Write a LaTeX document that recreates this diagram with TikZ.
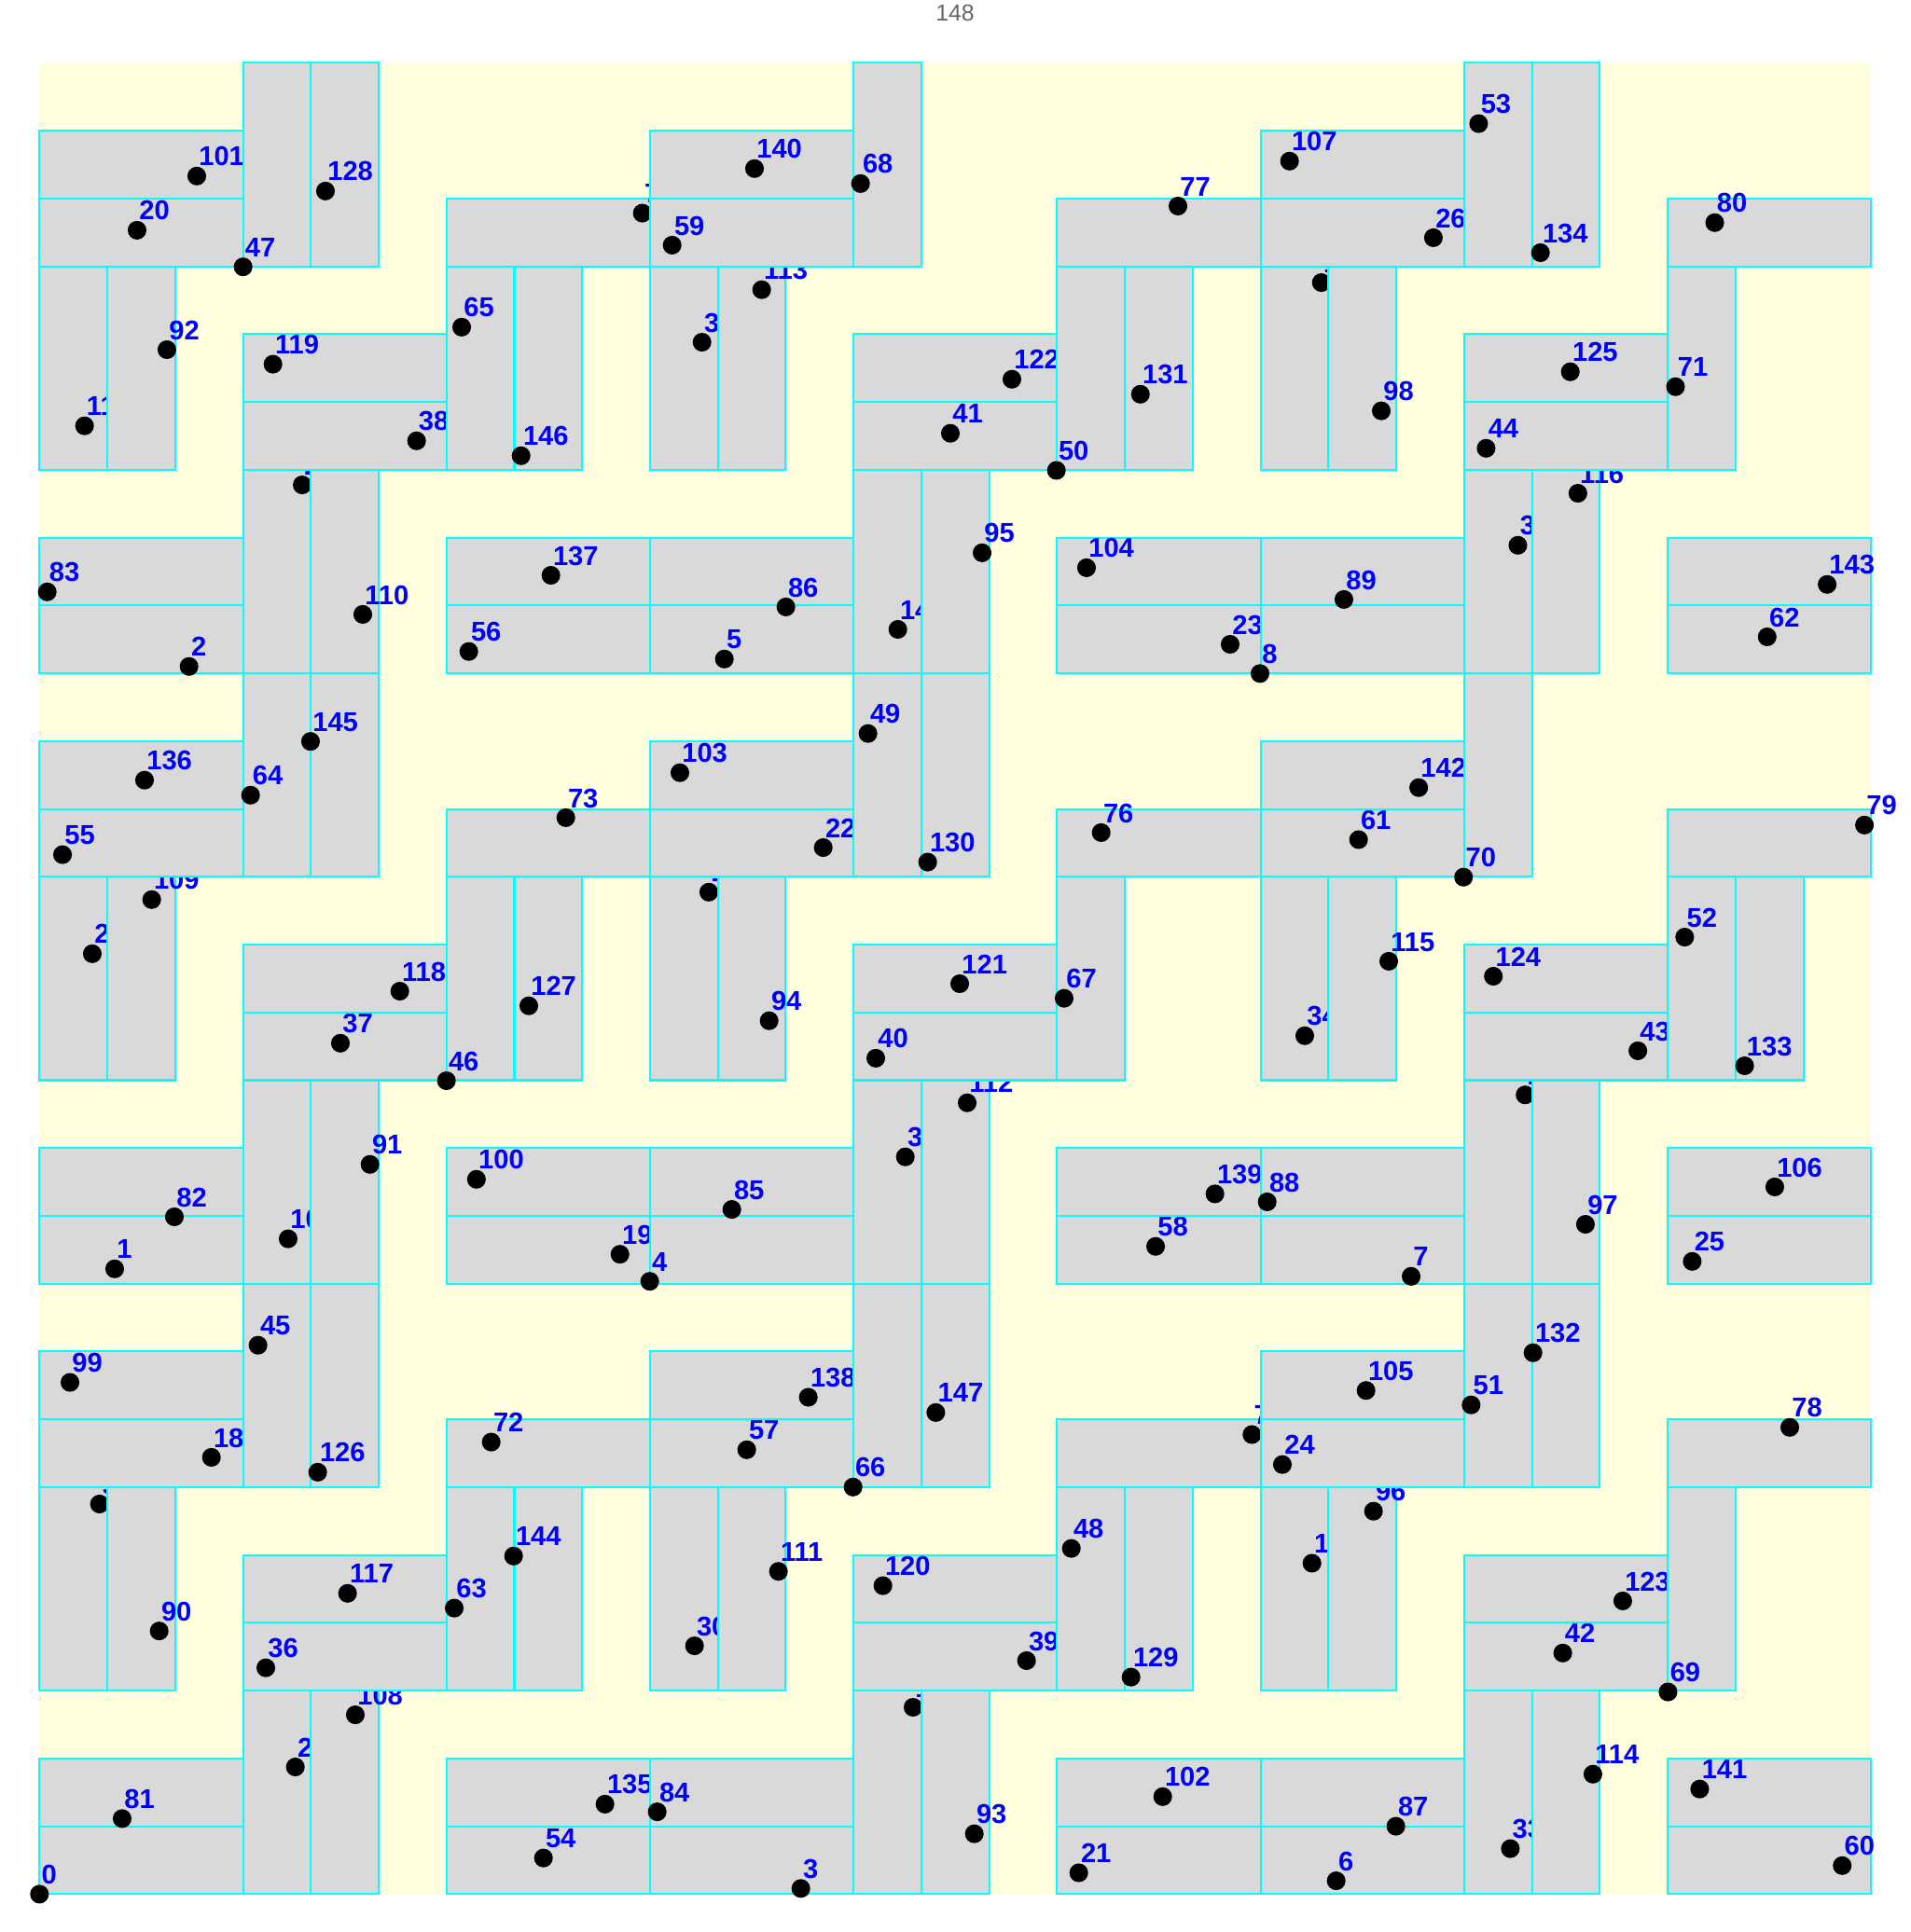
\documentclass[tikz,border=0pt]{standalone}
\usepackage{fontspec}
\newfontfamily\labfont{Liberation Sans}
\definecolor{bgyellow}{RGB}{255,255,221}
\definecolor{tilegray}{RGB}{217,217,217}
\definecolor{tileedge}{RGB}{0,255,255}
\definecolor{labblue}{RGB}{0,0,255}
\definecolor{titlegray}{RGB}{102,102,102}
\tikzset{
  tilebox/.style={fill=tilegray, draw=tileedge, line width=0.8pt},
  ptdot/.style={fill=black},
  lab/.style={anchor=base west, inner sep=0pt, text=labblue, font=\labfont\bfseries\fontsize{11.4}{12}\selectfont},
  titlelab/.style={anchor=base, inner sep=0pt, text=titlegray, font=\labfont\fontsize{9.7}{11}\selectfont}
}
% horizontal 3x1 tile at (u,v) (v measured downward), point (pu,pv), label
\newcommand{\hrt}[5]{%
  \draw[tilebox] (#1,#2) rectangle ++(3,1);
  \fill[ptdot] (#3,#4) circle[radius=0.138];
  \node[lab] (p#5) at (#3+0.025,#4-0.15) {#5};}
% vertical 1x3 tile
\newcommand{\vrt}[5]{%
  \draw[tilebox] (#1,#2) rectangle ++(1,3);
  \fill[ptdot] (#3,#4) circle[radius=0.138];
  \node[lab] (p#5) at (#3+0.025,#4-0.15) {#5};}
\begin{document}
\begin{tikzpicture}
\useasboundingbox (-0.5815,-0.558) rectangle (27.5735,27.9266);
\node[titlelab] (title) at (13.496,27.62) {148};
\fill[bgyellow] (0,0) rectangle (27,27);
\begin{scope}[shift={(0cm,27cm)}, x={(1cm,0cm)}, y={(0cm,-1cm)}]
% row tops 26
\hrt{0}{26}{0}{27}{0}
\hrt{6}{26}{7.429}{26.467}{54}
\hrt{9}{26}{11.223}{26.916}{3}
\hrt{15}{26}{15.320}{26.685}{21}
\hrt{18}{26}{19.114}{26.803}{6}
\hrt{24}{26}{26.573}{26.579}{60}
% 25
\hrt{0}{25}{1.219}{25.886}{81}
\hrt{6}{25}{8.336}{25.673}{135}
\hrt{9}{25}{9.106}{25.786}{84}
\hrt{15}{25}{16.557}{25.562}{102}
\hrt{18}{25}{19.994}{25.999}{87}
\hrt{24}{25}{24.472}{25.450}{141}
% 24
\vrt{3}{24}{3.772}{25.125}{27}
\vrt{4}{24}{4.656}{24.356}{108}
\vrt{12}{24}{12.877}{24.245}{12}
\vrt{13}{24}{13.780}{26.110}{93}
\vrt{21}{24}{21.681}{26.329}{33}
\vrt{22}{24}{22.898}{25.231}{114}
% 23
\hrt{3}{23}{3.337}{23.663}{36}
\hrt{12}{23}{14.550}{23.557}{39}
\hrt{21}{23}{22.454}{23.445}{42}
% 22
\hrt{3}{22}{4.542}{22.565}{117}
\hrt{12}{22}{12.433}{22.452}{120}
\hrt{21}{22}{23.338}{22.677}{123}
% 21
\vrt{0}{21}{0.885}{21.248}{9}
\vrt{1}{21}{1.765}{23.120}{90}
\vrt{6}{21}{6.114}{22.783}{63}
\vrt{7}{21}{6.989}{22.015}{144}
\vrt{9}{21}{9.656}{23.339}{30}
\vrt{10}{21}{10.893}{22.241}{111}
\vrt{15}{21}{15.210}{21.903}{48}
\vrt{16}{21}{16.090}{23.800}{129}
\vrt{18}{21}{18.757}{22.121}{15}
\vrt{19}{21}{19.664}{21.354}{96}
\vrt{24}{21}{24.005}{24.019}{69}
% 20
\hrt{0}{20}{2.535}{20.560}{18}
\hrt{6}{20}{6.659}{20.335}{72}
\hrt{9}{20}{10.426}{20.448}{57}
\hrt{15}{20}{17.872}{20.224}{75}
\hrt{18}{20}{18.321}{20.666}{24}
\hrt{24}{20}{25.800}{20.118}{78}
% 19
\hrt{0}{19}{0.450}{19.455}{99}
\hrt{9}{19}{11.333}{19.674}{138}
\hrt{18}{19}{19.554}{19.574}{105}
% 18
\vrt{3}{18}{3.222}{18.907}{45}
\vrt{4}{18}{4.102}{20.779}{126}
\vrt{12}{18}{11.993}{20.998}{66}
\vrt{13}{18}{13.212}{19.899}{147}
\vrt{21}{18}{21.103}{19.787}{51}
\vrt{22}{18}{22.015}{19.018}{132}
% 17
\hrt{0}{17}{1.109}{17.781}{1}
\hrt{6}{17}{8.557}{17.566}{19}
\hrt{9}{17}{8.996}{17.965}{4}
\hrt{15}{17}{16.452}{17.450}{58}
\hrt{18}{17}{20.219}{17.891}{7}
\hrt{24}{17}{24.362}{17.671}{25}
% 16
\hrt{0}{16}{1.989}{17.014}{82}
\hrt{6}{16}{6.441}{16.461}{100}
\hrt{9}{16}{10.206}{16.905}{85}
\hrt{15}{16}{17.327}{16.676}{139}
\hrt{18}{16}{18.097}{16.793}{88}
\hrt{24}{16}{25.579}{16.573}{106}
% 15
\vrt{3}{15}{3.666}{17.338}{10}
\vrt{4}{15}{4.872}{16.241}{91}
\vrt{12}{15}{12.763}{16.130}{31}
\vrt{13}{15}{13.675}{15.333}{112}
\vrt{21}{15}{21.899}{15.216}{16}
\vrt{22}{15}{22.788}{17.124}{97}
% 14
\hrt{3}{14}{4.436}{14.454}{37}
\hrt{12}{14}{12.328}{14.675}{40}
\hrt{21}{14}{23.561}{14.566}{43}
% 13
\hrt{3}{13}{5.312}{13.687}{118}
\hrt{12}{13}{13.565}{13.577}{121}
\hrt{21}{13}{21.431}{13.467}{124}
% 12
\vrt{0}{12}{0.779}{13.135}{28}
\vrt{1}{12}{1.655}{12.337}{109}
\vrt{6}{12}{5.999}{15.007}{46}
\vrt{7}{12}{7.213}{13.903}{127}
\vrt{9}{12}{9.866}{12.227}{13}
\vrt{10}{12}{10.756}{14.123}{94}
\vrt{15}{12}{15.104}{13.792}{67}
\vrt{18}{12}{18.651}{14.344}{34}
\vrt{19}{12}{19.889}{13.246}{115}
\vrt{24}{12}{24.251}{12.890}{52}
\vrt{25}{12}{25.135}{14.787}{133}
% 11
\hrt{0}{11}{0.340}{11.674}{55}
\hrt{6}{11}{7.759}{11.129}{73}
\hrt{9}{11}{11.553}{11.570}{22}
\hrt{15}{11}{15.650}{11.349}{76}
\hrt{18}{11}{19.444}{11.453}{61}
\hrt{24}{11}{26.901}{11.238}{79}
% 10
\hrt{0}{10}{1.549}{10.576}{136}
\hrt{9}{10}{9.440}{10.466}{103}
\hrt{18}{10}{20.330}{10.686}{142}
% 9
\vrt{3}{9}{3.112}{10.797}{64}
\vrt{4}{9}{3.996}{10.005}{145}
\vrt{12}{9}{12.213}{9.888}{49}
\vrt{13}{9}{13.093}{11.784}{130}
\vrt{21}{9}{20.991}{12.006}{70}
% 8
\hrt{0}{8}{2.205}{8.900}{2}
\hrt{6}{8}{6.329}{8.679}{56}
\hrt{9}{8}{10.096}{8.790}{5}
\hrt{15}{8}{17.551}{8.573}{23}
\hrt{18}{8}{17.991}{9.004}{8}
\hrt{24}{8}{25.467}{8.463}{62}
% 7
\hrt{0}{7}{0.115}{7.800}{83}
\hrt{6}{7}{7.539}{7.556}{137}
\hrt{9}{7}{11.003}{8.022}{86}
\hrt{15}{7}{15.434}{7.444}{104}
\hrt{18}{7}{19.228}{7.912}{89}
\hrt{24}{7}{26.351}{7.690}{143}
% 6
\vrt{3}{6}{3.873}{6.223}{29}
\vrt{4}{6}{4.766}{8.132}{110}
\vrt{12}{6}{12.653}{8.353}{14}
\vrt{13}{6}{13.895}{7.224}{95}
\vrt{21}{6}{21.792}{7.113}{35}
\vrt{22}{6}{22.677}{6.346}{116}
% 5
\hrt{3}{5}{5.559}{5.573}{38}
\hrt{12}{5}{13.427}{5.462}{41}
\hrt{21}{5}{21.324}{5.683}{44}
% 4
\hrt{3}{4}{3.442}{4.443}{119}
\hrt{12}{4}{14.334}{4.665}{122}
\hrt{21}{4}{22.565}{4.555}{125}
% 3
\vrt{0}{3}{0.665}{5.352}{11}
\vrt{1}{3}{1.879}{4.229}{92}
\vrt{6}{3}{6.224}{3.897}{65}
\vrt{7}{3}{7.099}{5.793}{146}
\vrt{9}{3}{9.766}{4.119}{32}
\vrt{10}{3}{10.646}{3.345}{113}
\vrt{15}{3}{14.990}{6.009}{50}
\vrt{16}{3}{16.228}{4.886}{131}
\vrt{18}{3}{18.895}{3.240}{17}
\vrt{19}{3}{19.779}{5.131}{98}
\vrt{24}{3}{24.116}{4.775}{71}
% 2
\hrt{0}{2}{1.439}{2.468}{20}
\hrt{6}{2}{8.886}{2.216}{74}
\hrt{9}{2}{9.326}{2.688}{59}
\hrt{15}{2}{16.782}{2.112}{77}
\hrt{18}{2}{20.547}{2.578}{26}
\hrt{24}{2}{24.694}{2.356}{80}
% 1
\hrt{0}{1}{2.319}{1.669}{101}
\hrt{9}{1}{10.540}{1.559}{140}
\hrt{18}{1}{18.427}{1.449}{107}
% 0
\vrt{3}{0}{3.002}{3.008}{47}
\vrt{4}{0}{4.216}{1.890}{128}
\vrt{12}{0}{12.103}{1.780}{68}
\vrt{21}{0}{21.214}{0.896}{53}
\vrt{22}{0}{22.125}{2.799}{134}
\end{scope}
\end{tikzpicture}
\end{document}
